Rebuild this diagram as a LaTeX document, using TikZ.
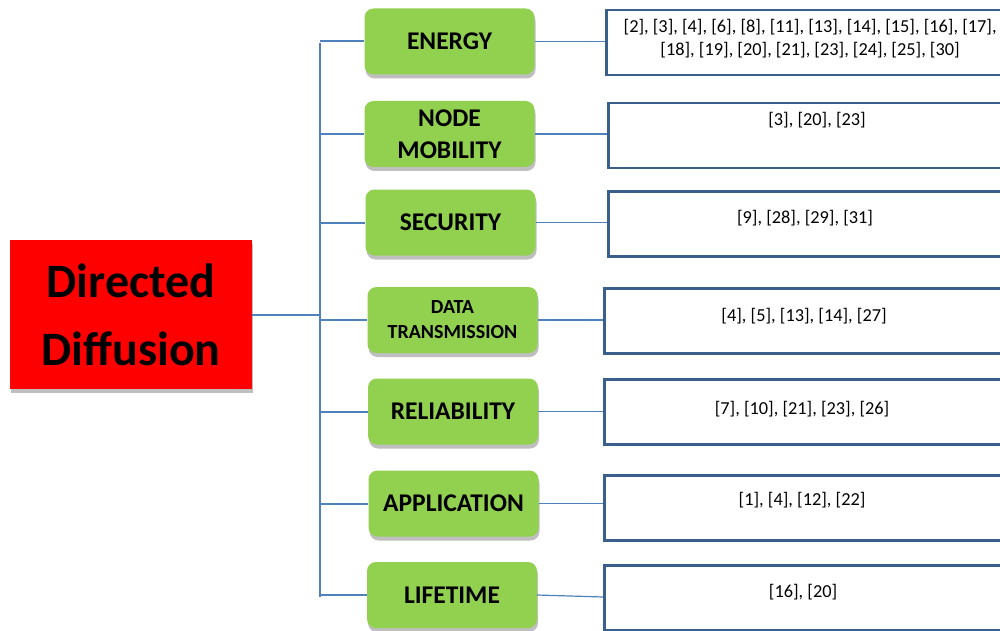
\documentclass[tikz,border=0pt]{standalone}
\usepackage{fontspec}
\setmainfont{Carlito}
\usetikzlibrary{shadows,calc}
\definecolor{grn}{HTML}{92D050}
\definecolor{lnblue}{HTML}{4F81BD}
\definecolor{bxblue}{HTML}{3A5F8D}
\begin{document}
\begin{tikzpicture}[x=1pt,y=-1pt,
  cat/.style={draw=none, fill=grn, rounded corners=9pt, minimum width=170pt, minimum height=66pt,
    inner sep=0pt, align=center, font=\bfseries\fontsize{25.5}{32}\selectfont,
    drop shadow={shadow xshift=1pt, shadow yshift=-4pt, opacity=0.25, fill=black}},
  smallcat/.style={cat, font=\bfseries\fontsize{20}{25}\selectfont},
  refbox/.style={draw=bxblue, line width=2.5pt, fill=white, minimum width=410pt, minimum height=65pt,
    anchor=north west, inner sep=0pt},
  reftext/.style={font=\fontsize{18.3}{23}\selectfont, align=center, inner sep=0pt},
  trunk/.style={draw=lnblue, line width=2pt},
  link/.style={draw=lnblue, line width=1.2pt}]
\useasboundingbox (0,0) rectangle (1000,631);
\clip (0,0) rectangle (1000,631);
\fill[white] (0,0) rectangle (1000,631);

% root
\node[fill=red, minimum width=242pt, minimum height=149pt, inner sep=0pt, align=center,
  font=\bfseries\fontsize{48}{68}\selectfont,
  drop shadow={shadow xshift=1pt, shadow yshift=-4pt, opacity=0.25, fill=black}] (root) at (131,314.5) {Directed\\Diffusion};

% trunk
\coordinate (ttop) at (320,43);
\coordinate (tbot) at (320,597);

% categories
\node[cat] (g1) at (449.5,41.5) {ENERGY};
\node[cat] (g2) at (449.5,134) {NODE\\MOBILITY};
\node[cat] (g3) at (450.5,222.5) {SECURITY};
\node[smallcat] (g4) at (452.5,320) {DATA\\TRANSMISSION};
\node[cat] (g5) at (453,411.5) {RELIABILITY};
\node[cat] (g6) at (453.5,503.5) {APPLICATION};
\node[cat] (g7) at (452,595) {LIFETIME};

% reference boxes
\node[refbox] (r1) at (605,9) {};
\node[refbox] (r2) at (607,102) {};
\node[refbox] (r3) at (607,190) {};
\node[refbox] (r4) at (603,287) {};
\node[refbox] (r5) at (603,378) {};
\node[refbox] (r6) at (603,474) {};
\node[refbox] (r7) at (603,564) {};

\node[reftext] (t1) at (810,38.5) {[2], [3], [4], [6], [8], [11], [13], [14], [15], [16], [17],\\\relax [18], [19], [20], [21], [23], [24], [25], [30]};
\node[reftext] (t2) at (817,120) {[3], [20], [23]};
\node[reftext] (t3) at (805,218) {[9], [28], [29], [31]};
\node[reftext] (t4) at (804,316) {[4], [5], [13], [14], [27]};
\node[reftext] (t5) at (802,409) {[7], [10], [21], [23], [26]};
\node[reftext] (t6) at (802,500) {[1], [4], [12], [22]};
\node[reftext] (t7) at (803,592) {[16], [20]};

% connectors
\draw[trunk] (ttop) -- (tbot);
\draw[trunk] (root.east) -- (root.east -| ttop);
\foreach \g in {g1,g2,g3,g4,g5,g6,g7}{
  \draw[trunk] (\g.west -| ttop) -- (\g.west);
}
\draw[link] (g1.east) -- (g1.east -| r1.west);
\draw[link] (g2.east) -- (g2.east -| r2.west);
\draw[link] (g3.east) -- (g3.east -| r3.west);
\draw[link] (g4.east) -- (g4.east -| r4.west);
\draw[link] (g5.east) -- (g5.east -| r5.west);
\draw[link] (g6.east) -- (g6.east -| r6.west);
\draw[link] (g7.east) -- ($(g7.east -| r7.west)+(0,2)$);
\end{tikzpicture}
\end{document}
